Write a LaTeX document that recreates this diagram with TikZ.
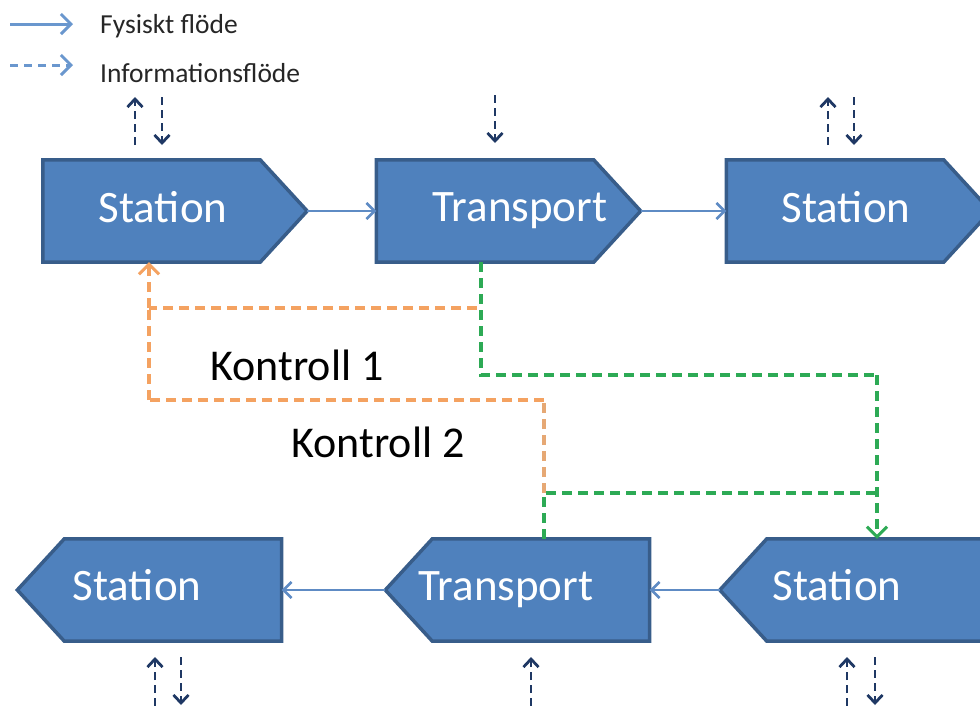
\documentclass[tikz,border=0pt]{standalone}
\usepackage{fontspec}
\setmainfont{Carlito}
\usetikzlibrary{arrows.meta}
\definecolor{boxblue}{HTML}{4F81BD}
\definecolor{boxedge}{HTML}{385D8A}
\definecolor{physblue}{HTML}{5E8BC4}
\definecolor{legblue}{HTML}{6A97CE}
\definecolor{navy}{HTML}{1F3864}
\definecolor{orangeline}{HTML}{F4A261}
\definecolor{tanline}{HTML}{E6A874}
\definecolor{greenline}{HTML}{2DAA55}
\definecolor{txtgray}{HTML}{262626}
\tikzset{
  box/.style={fill=boxblue, draw=boxedge, line width=3.5pt, line join=miter},
  body/.style={draw=none, fill=none, rectangle, inner sep=0pt, minimum width=217pt, minimum height=102pt},
  boxtxt/.style={text=white, font=\fontsize{45}{45}\selectfont, anchor=base, inner sep=0pt},
  ctltxt/.style={text=black, font=\fontsize{44}{44}\selectfont, anchor=base, inner sep=0pt},
  legtxt/.style={text=txtgray, font=\fontsize{27.5}{27.5}\selectfont, anchor=base west, inner sep=0pt},
  phys/.style={draw=physblue, line width=2.8pt, -{Straight Barb[length=8pt,width=16pt,line width=2.6pt]}},
  legphys/.style={draw=legblue, line width=3pt, -{Straight Barb[length=10pt,width=20pt,line width=3pt]}},
  leginfo/.style={draw=legblue, line width=3pt, dash pattern=on 8pt off 6pt, -{Straight Barb[length=10pt,width=20pt,line width=3pt]}},
  info/.style={draw=navy, line width=2.8pt, dash pattern=on 8pt off 5pt, -{Straight Barb[length=8pt,width=15pt,line width=2.8pt]}},
  orangectl/.style={draw=orangeline, line width=3.2pt, dash pattern=on 10pt off 6pt},
  tanctl/.style={draw=tanline, line width=3.2pt, dash pattern=on 10pt off 6pt},
  greenctl/.style={draw=greenline, line width=3.2pt, dash pattern=on 10pt off 6pt},
  ctlhead/.style={-{Straight Barb[length=10pt,width=20pt,line width=3pt]}},
}
\begin{document}
\begin{tikzpicture}[x=1pt,y=-1pt]
\useasboundingbox (0,0) rectangle (980,705);
\clip (0,0) rectangle (980,705);

% ---------- legend ----------
\coordinate (lg1a) at (10,24);
\coordinate (lg1b) at (73,24);
\coordinate (lg2a) at (10,65);
\coordinate (lg2b) at (73,65);
\draw[legphys] (lg1a) -- (lg1b);
\draw[leginfo] (lg2a) -- (lg2b);
\node[legtxt] (legF) at (100,33) {Fysiskt flöde};
\node[legtxt] (legI) at (100,82) {Informationsflöde};

% ---------- top row bodies ----------
\node[body] (S1) at (151.5,211) {};
\node[body] (T1) at (485,211) {};
\node[body] (S2) at (835,211) {};
% ---------- bottom row bodies ----------
\node[body] (S3) at (173,590) {};
\node[body] (T2) at (541,590) {};
\node[body] (S4) at (875.5,590) {};

% tips
\coordinate (S1tip) at ([xshift=47pt]S1.east);
\coordinate (T1tip) at ([xshift=47pt]T1.east);
\coordinate (S2tip) at ([xshift=47pt]S2.east);
\coordinate (S3tip) at ([xshift=-47pt]S3.west);
\coordinate (T2tip) at ([xshift=-47pt]T2.west);
\coordinate (S4tip) at ([xshift=-47pt]S4.west);

% outlines
\path[box] (S1.north west) -- (S1.north east) -- (S1tip) -- (S1.south east) -- (S1.south west) -- cycle;
\path[box] (T1.north west) -- (T1.north east) -- (T1tip) -- (T1.south east) -- (T1.south west) -- cycle;
\path[box] (S2.north west) -- (S2.north east) -- (S2tip) -- (S2.south east) -- (S2.south west) -- cycle;
\path[box] (S3.north east) -- (S3.north west) -- (S3tip) -- (S3.south west) -- (S3.south east) -- cycle;
\path[box] (T2.north east) -- (T2.north west) -- (T2tip) -- (T2.south west) -- (T2.south east) -- cycle;
\path[box] (S4.north east) -- (S4.north west) -- (S4tip) -- (S4.south west) -- (S4.south east) -- cycle;

% labels
\node[boxtxt] (lS1) at (163,222) {Station};
\node[boxtxt] (lT1) at (520,221) {Transport};
\node[boxtxt] (lS2) at (846,222) {Station};
\node[boxtxt] (lS3) at (137,600) {Station};
\node[boxtxt] (lT2) at (506,600) {Transport};
\node[boxtxt] (lS4) at (837,600) {Station};

% physical flow
\draw[phys] (S1tip) -- (T1.west);
\draw[phys] (T1tip) -- (S2.west);
\draw[phys] (S4tip) -- (T2.east);
\draw[phys] (T2tip) -- (S3.east);

% ---------- information arrows (top) ----------
\coordinate (i1a) at (135,145); \coordinate (i1b) at (135,97);
\coordinate (i2a) at (162,97);  \coordinate (i2b) at (162,145);
\coordinate (i3a) at (495,95);  \coordinate (i3b) at (495,143);
\coordinate (i4a) at (828,145); \coordinate (i4b) at (828,97);
\coordinate (i5a) at (854,97);  \coordinate (i5b) at (854,145);
\draw[info] (i1a) -- (i1b);
\draw[info] (i2a) -- (i2b);
\draw[info] (i3a) -- (i3b);
\draw[info] (i4a) -- (i4b);
\draw[info] (i5a) -- (i5b);
% ---------- information arrows (bottom) ----------
\coordinate (j1a) at (155,706); \coordinate (j1b) at (155,657);
\coordinate (j2a) at (181,657); \coordinate (j2b) at (181,705);
\coordinate (j3a) at (531,706); \coordinate (j3b) at (531,657);
\coordinate (j4a) at (847,706); \coordinate (j4b) at (847,657);
\coordinate (j5a) at (875,657); \coordinate (j5b) at (875,705);
\draw[info] (j1a) -- (j1b);
\draw[info] (j2a) -- (j2b);
\draw[info] (j3a) -- (j3b);
\draw[info] (j4a) -- (j4b);
\draw[info] (j5a) -- (j5b);

% ---------- control loops ----------
\coordinate (o1) at (477,308);
\coordinate (o2) at (149,308);
\coordinate (o3) at (149,400);
\coordinate (o4) at (544,400);
\coordinate (o5) at (544,493);
\coordinate (g1) at (481,375);
\coordinate (g2) at (877,375);
\coordinate (g3) at (877,493);

% Kontroll 1
\draw[orangectl] (o1) -- (o2);
\draw[orangectl, ctlhead] (o2) -- (S1.south -| o2);
\draw[greenctl] (T1.south -| g1) -- (g1) -- (g2);
\draw[greenctl, ctlhead] (g2) -- (S4.north -| g2);
% Kontroll 2
\draw[orangectl] (o3) -- (o2);
\draw[orangectl] (o4) -- (o3);
\draw[tanctl] (o5) -- (o4);
\draw[greenctl] (T2.north -| o5) -- (o5) -- (g3);

\node[ctltxt] (k1) at (297,380) {Kontroll 1};
\node[ctltxt] (k2) at (378,457) {Kontroll 2};
\end{tikzpicture}
\end{document}
